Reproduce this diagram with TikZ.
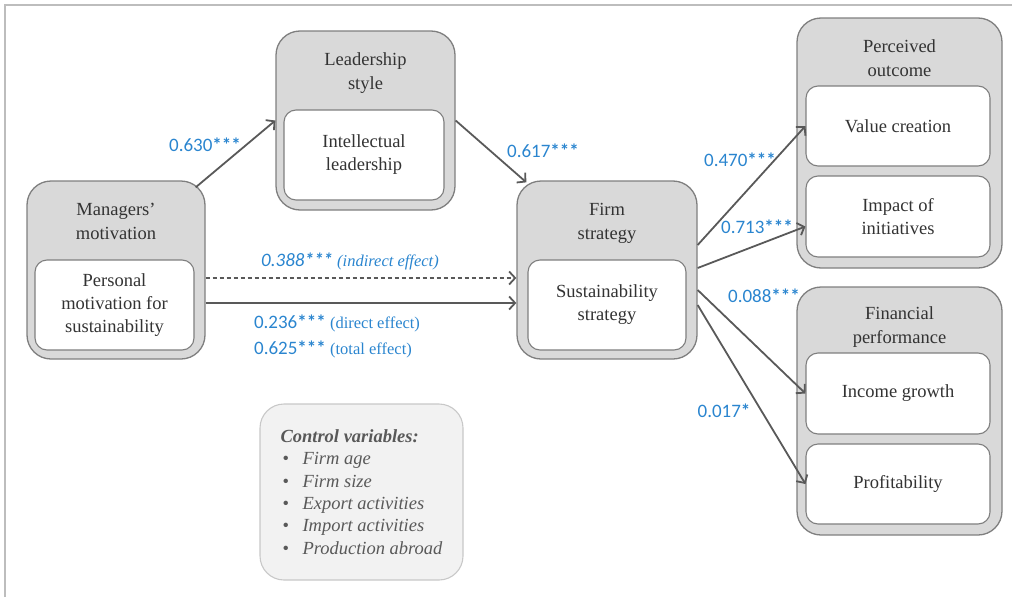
\documentclass[tikz,border=0pt]{standalone}
\usepackage{fontspec}
\setmainfont{Liberation Serif}
\newfontfamily\serifface{Liberation Serif}
\newfontfamily\numface{Carlito}
\usetikzlibrary{arrows.meta}

\definecolor{boxgray}{HTML}{D9D9D9}
\definecolor{edgegray}{HTML}{7F7F7F}
\definecolor{arrowgray}{HTML}{595959}
\definecolor{txtgray}{HTML}{333333}
\definecolor{coefblue}{HTML}{2A85CF}
\definecolor{ctrlfill}{HTML}{F2F2F2}
\definecolor{ctrledge}{HTML}{C8C8C8}
\definecolor{ctrltext}{HTML}{595959}
\definecolor{framegray}{HTML}{BDBDBD}

\newcommand{\stars}[1]{\textbf{#1}}

\tikzset{
  outerbox/.style={draw=edgegray, fill=boxgray, line width=1.3pt,
    rounded corners=24pt, inner sep=0pt},
  innerbox/.style={draw=edgegray, fill=white, line width=1.1pt,
    rounded corners=12pt, inner sep=0pt, align=center, text=txtgray,
    font=\serifface\fontsize{18.5}{23}\selectfont},
  boxtitle/.style={align=center, text=txtgray, inner sep=0pt,
    font=\serifface\fontsize{18.5}{24}\selectfont},
  coef/.style={text=coefblue, inner sep=0pt, font=\numface\fontsize{19}{20}\selectfont},
  link/.style={draw=arrowgray, line width=1.8pt,
    -{Straight Barb[length=6pt, width=13pt, line width=1.8pt]}},
  dashlink/.style={link, line width=1.3pt, dash pattern=on 4pt off 3pt},
}

\begin{document}
\begin{tikzpicture}[x=1pt, y=-1pt]
\useasboundingbox (0,0) rectangle (1019,597);

% frame lines
\draw[framegray, line width=2pt] (5,597) -- (5,5) -- (1012,5);

% Managers' motivation
\node[outerbox, minimum width=178pt, minimum height=178pt] (mgr) at (116,270) {};
\node[boxtitle] (mgrT) at (116,221) {Managers’\\motivation};
\node[innerbox, minimum width=159pt, minimum height=90pt] (mgrI) at (114.5,305)
  {Personal\\motivation for\\sustainability};

% Leadership style
\node[outerbox, minimum width=179pt, minimum height=179pt] (lead) at (365.5,120.5) {};
\node[boxtitle] (leadT) at (365.5,73) {Leadership\\style};
\node[innerbox, minimum width=160pt, minimum height=90pt] (leadI) at (364,155)
  {Intellectual\\leadership};

% Firm strategy
\node[outerbox, minimum width=180pt, minimum height=178pt] (firm) at (607,270) {};
\node[boxtitle] (firmT) at (607,223) {Firm\\strategy};
\node[innerbox, minimum width=158pt, minimum height=90pt] (firmI) at (607,305)
  {Sustainability\\strategy};

% Perceived outcome
\node[outerbox, minimum width=205pt, minimum height=250pt] (perc) at (899.5,143) {};
\node[boxtitle] (percT) at (899.5,58) {Perceived\\outcome};
\node[innerbox, minimum width=184pt, minimum height=80pt] (value) at (898,126)
  {Value creation};
\node[innerbox, minimum width=184pt, minimum height=81pt] (impact) at (898,216.5)
  {Impact of\\initiatives};

% Financial performance
\node[outerbox, minimum width=205pt, minimum height=248pt] (fin) at (899.5,411) {};
\node[boxtitle] (finT) at (899.5,327) {Financial\\performance};
\node[innerbox, minimum width=184pt, minimum height=81pt] (income) at (898,393.5)
  {Income growth};
\node[innerbox, minimum width=184pt, minimum height=80pt] (profit) at (898,484)
  {Profitability};

% Control variables
\node[draw=ctrledge, fill=ctrlfill, line width=1.1pt, rounded corners=24pt,
  minimum width=203pt, minimum height=176pt, inner sep=0pt, align=left,
  text=ctrltext, font=\serifface\itshape\fontsize{18.5}{22.4}\selectfont] (ctrl) at (361.5,492)
  {\textbf{Control variables:}\\
   \makebox[22pt][l]{\hspace{2pt}\upshape\textbullet}Firm age\\
   \makebox[22pt][l]{\hspace{2pt}\upshape\textbullet}Firm size\\
   \makebox[22pt][l]{\hspace{2pt}\upshape\textbullet}Export activities\\
   \makebox[22pt][l]{\hspace{2pt}\upshape\textbullet}Import activities\\
   \makebox[22pt][l]{\hspace{2pt}\upshape\textbullet}Production abroad};

% paths between constructs
\draw[link] ([xshift=-10pt, yshift=-7pt]mgr.north east) -- (lead.west);
\draw[link] (lead.east) -- ([xshift=10pt, yshift=-2pt]firm.north west);
\draw[dashlink] ([yshift=-8pt]mgr.east) -- ([yshift=-8pt]firm.west);
\draw[link] ([yshift=-33pt]mgr.east) -- ([yshift=-33pt]firm.west);
\draw[link] ([yshift=25pt]firm.east) -- (value.west);
\draw[link] ([yshift=2pt]firm.east) -- ([yshift=-10pt]impact.west);
\draw[link] ([yshift=-20pt]firm.east) -- (income.west);
\draw[link] ([yshift=-35pt]firm.east) -- (profit.west);

% coefficients
\node[coef] (c1) at (205,145) {0.630\stars{***}};
\node[coef] (c2) at (543,151) {0.617\stars{***}};
\node[coef] (c3) at (350,261) {\itshape 0.388\stars{***} {\serifface\itshape\fontsize{16.5}{18}\selectfont(indirect effect)}};
\node[coef] (c4) at (337,323) {0.236\stars{***} {\serifface\fontsize{16.5}{18}\selectfont(direct effect)}};
\node[coef] (c5) at (333,349) {0.625\stars{***} {\serifface\fontsize{16.5}{18}\selectfont(total effect)}};
\node[coef] (c6) at (740,160) {0.470\stars{***}};
\node[coef] (c7) at (757,227) {0.713\stars{***}};
\node[coef] (c8) at (764,296) {0.088\stars{***}};
\node[coef] (c9) at (724,411) {0.017\stars{*}};
\end{tikzpicture}
\end{document}
